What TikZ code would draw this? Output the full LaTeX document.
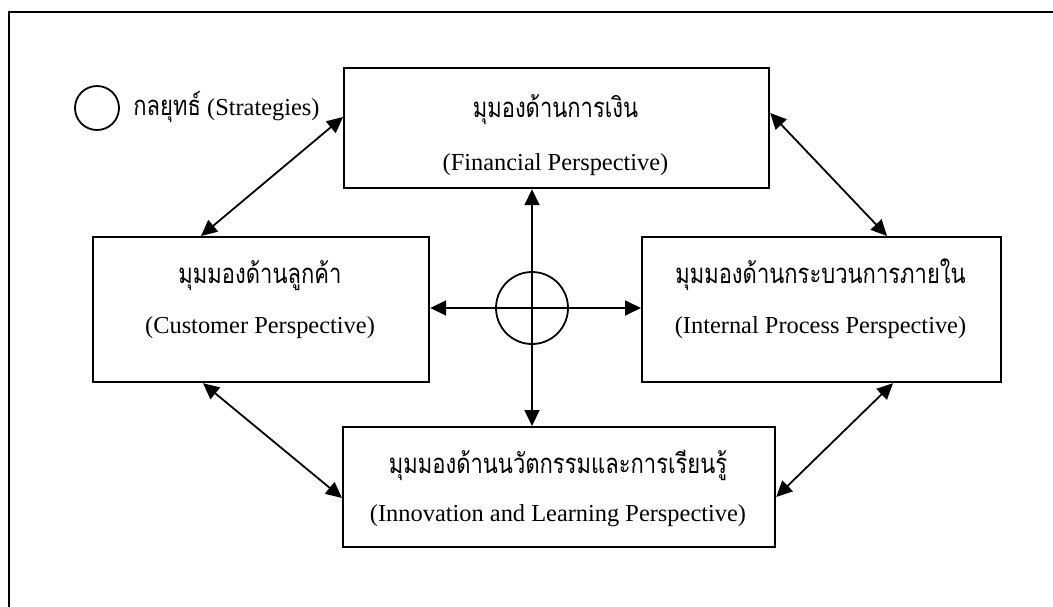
\documentclass[tikz,border=0pt]{standalone}
\usepackage{graphicx}
\usepackage{fontspec}
\setmainfont{Liberation Serif}
\newfontfamily\thaifont[Script=Thai]{Loma}
\usetikzlibrary{arrows.meta,calc}
% Thai lines are set slightly taller than the font's natural shape
\newcommand\tallthai[1]{\scalebox{1}[1.25]{#1}}
\tikzset{
  box/.style={draw, line width=1.1pt, rectangle, inner sep=0pt, anchor=north west},
  th/.style={font=\thaifont\fontsize{11}{13}\selectfont, anchor=base, inner sep=0pt},
  en/.style={font=\fontsize{12.2}{14}\selectfont, anchor=base, inner sep=0pt},
  tip/.tip={Triangle[length=8pt,width=7.5pt]},
  link/.style={line width=0.9pt, tip-tip},
  ring/.style={draw, circle, line width=0.9pt, inner sep=0pt},
}
\begin{document}
\begin{tikzpicture}[x=0.5pt,y=-0.5pt]
\useasboundingbox (0,0) rectangle (1053,606);
\clip (0,0) rectangle (1053,606);
% outer frame
\draw[line width=1pt] (9,12) rectangle (1090,650);

% four perspectives
\node[box, minimum width=212.5pt, minimum height=60pt]   (fin)  at (343,67)  {};
\node[box, minimum width=168pt,   minimum height=72.5pt] (cust) at (92,236)  {};
\node[box, minimum width=179.5pt, minimum height=72.5pt] (int)  at (641,236) {};
\node[box, minimum width=216pt,   minimum height=60pt]   (inn)  at (342,426) {};

\node[th] (finth) at (555.5,117) {\tallthai{มุมองด้านการเงิน}};
\node[en] (finen) at (555.5,170) {(Financial Perspective)};
\node[th] (custth) at (260,283) {\tallthai{มุมมองด้านลูกค้า}};
\node[en] (custen) at (260,333) {(Customer Perspective)};
\node[th] (intth) at (820.5,283) {\tallthai{มุมมองด้านกระบวนการภายใน}};
\node[en] (inten) at (820.5,333) {(Internal Process Perspective)};
\node[th] (innth) at (558,473) {\tallthai{มุมมองด้านนวัตกรรมและการเรียนรู้}};
\node[en] (innen) at (558,521) {(Innovation and Learning Perspective)};

% strategy hub
\node[ring, minimum size=36pt] (hub) at (532,308) {};

% legend
\node[ring, minimum size=22pt] (key) at (97,108) {};
\node[en, anchor=base west] (keytxt) at (133,115)
  {{\thaifont\fontsize{11}{13}\selectfont\tallthai{กลยุทธ์}} (Strategies)};

% links through the hub
\draw[link] (fin.south -| hub) -- (inn.north -| hub);
\draw[link] (cust.east |- hub) -- (int.west |- hub);

% links between neighbouring perspectives
\draw[link] ($(cust.north west)+(109,0)$) -- ($(fin.north west)+(0,50)$);
\draw[link] ($(fin.north east)+(0,46)$) -- ($(int.north west)+(246,0)$);
\draw[link] ($(cust.south west)+(111,0)$) -- ($(inn.north west)+(0,72)$);
\draw[link] ($(inn.north east)+(0,71)$) -- ($(int.south west)+(252,0)$);
\end{tikzpicture}
\end{document}
